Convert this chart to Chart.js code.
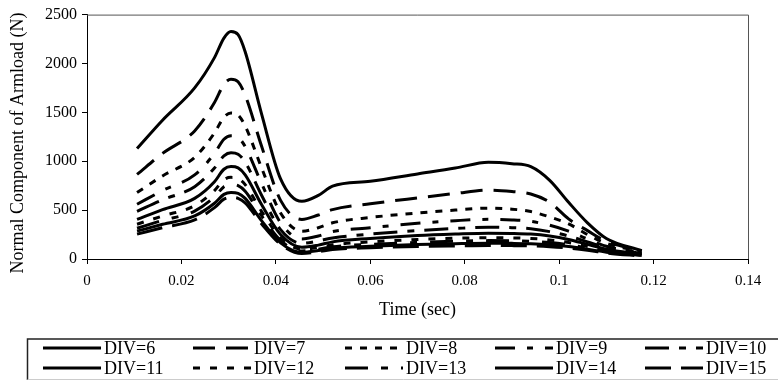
<!DOCTYPE html>
<html><head><meta charset="utf-8">
<script src="https://cdn.jsdelivr.net/npm/chart.js@4.4.1/dist/chart.umd.min.js"></script>
<style>html,body{margin:0;padding:0;background:#fff;}#wrap{width:778px;height:380px;}</style>
</head><body><div id="wrap"><canvas id="c" width="778" height="380"></canvas></div>
<script>
// ---- data ----
const timeSec = [0.0106, 0.016, 0.0228, 0.027, 0.029, 0.0305, 0.032, 0.0335, 0.037, 0.041, 0.0455, 0.049, 0.052, 0.06, 0.07, 0.078, 0.085, 0.09, 0.094, 0.098, 0.102, 0.106, 0.11, 0.1175];
const div6  = [1130, 1420, 1750, 2060, 2260, 2327, 2295, 2120, 1480, 820, 590, 650, 745, 795, 870, 930, 990, 975, 945, 805, 580, 370, 210, 85];
const div7  = [865, 1080, 1310, 1600, 1786, 1839, 1813, 1675, 1150, 600, 405, 450, 505, 565, 625, 670, 705, 690, 665, 580, 410, 290, 180, 85];
const div8  = [680, 850, 1040, 1290, 1451, 1494, 1473, 1361, 930, 470, 285, 320, 370, 425, 470, 500, 520, 510, 485, 430, 360, 250, 160, 75];
const div9  = [560, 700, 860, 1080, 1225, 1262, 1244, 1150, 770, 370, 205, 235, 280, 320, 365, 392, 406, 400, 385, 345, 285, 205, 130, 65];
const div10 = [488, 605, 740, 930, 1055, 1087, 1072, 990, 650, 300, 160, 185, 215, 255, 290, 312, 325, 320, 310, 280, 235, 175, 115, 55];
const div11 = [406, 505, 620, 790, 918, 945, 932, 861, 555, 250, 120, 142, 175, 210, 240, 255, 264, 262, 255, 235, 200, 150, 100, 50];
const div12 = [356, 440, 545, 700, 811, 835, 823, 761, 485, 215, 100, 118, 145, 175, 200, 212, 218, 216, 210, 195, 168, 128, 88, 45];
const div13 = [315, 395, 490, 635, 740, 762, 751, 694, 440, 190, 82, 100, 125, 150, 170, 182, 188, 186, 181, 168, 146, 112, 78, 40];
const div14 = [285, 355, 440, 570, 661, 681, 671, 620, 390, 165, 68, 86, 110, 130, 148, 157, 162, 160, 156, 146, 128, 100, 70, 35];
const div15 = [254, 320, 400, 525, 612, 630, 621, 574, 358, 150, 55, 74, 96, 115, 128, 134, 138, 137, 134, 126, 112, 90, 62, 30];
const seriesNames = ['DIV=6','DIV=7','DIV=8','DIV=9','DIV=10','DIV=11','DIV=12','DIV=13','DIV=14','DIV=15'];
const xTickLabels = ['0','0.02','0.04','0.06','0.08','0.1','0.12','0.14'];
const yTickLabels = ['0','500','1000','1500','2000','2500'];
const xTitle = 'Time (sec)';
const yTitle = 'Normal Component of Armload (N)';

// ---- styles ----
const allSeries = [div6, div7, div8, div9, div10, div11, div12, div13, div14, div15];
const dashes = [[], [22, 11], [7, 8], [20, 12, 6, 12], [24, 10, 7, 10], [], [7, 10], [23, 13, 7, 13], [], [26, 10]];
const widths = [3, 3, 3, 3, 3, 3, 3, 3, 3, 3];

const datasets = allSeries.map((vals, i) => ({
  label: seriesNames[i],
  data: vals.map((v, k) => ({x: timeSec[k], y: v})),
  borderColor: '#000',
  borderWidth: widths[i],
  borderDash: dashes[i],
  borderCapStyle: 'butt',
  pointRadius: 0,
  fill: false,
  cubicInterpolationMode: 'monotone'
}));

const serif = "'Liberation Serif','Times New Roman',serif";

const decor = {
  id: 'decor',
  afterDraw(chart) {
    const ctx = chart.ctx;
    const a = chart.chartArea;
    ctx.save();
    ctx.strokeStyle = '#555';
    ctx.lineWidth = 1;
    ctx.beginPath();
    ctx.moveTo(a.left, a.top + 0.5);
    ctx.lineTo(a.right + 0.5, a.top + 0.5);
    ctx.lineTo(a.right + 0.5, a.bottom);
    ctx.stroke();
    ctx.fillStyle = '#000';
    ctx.font = '18px ' + serif;
    ctx.textAlign = 'center';
    ctx.textBaseline = 'middle';
    ctx.translate(18, 143);
    ctx.rotate(-Math.PI / 2);
    ctx.fillText(yTitle, 0, 0);
    ctx.restore();

    ctx.save();
    ctx.strokeStyle = '#222';
    ctx.lineWidth = 1.5;
    ctx.beginPath();
    ctx.moveTo(27.5, 380);
    ctx.lineTo(27.5, 339);
    ctx.lineTo(790, 339);
    ctx.stroke();
    ctx.strokeStyle = '#ccc';
    ctx.lineWidth = 1;
    ctx.beginPath();
    ctx.moveTo(27.5, 379.5);
    ctx.lineTo(790, 379.5);
    ctx.stroke();
    const cols = [43, 193, 345, 495, 645];
    const rows = [348, 368];
    ctx.font = '18px ' + serif;
    ctx.textAlign = 'left';
    ctx.textBaseline = 'middle';
    ctx.fillStyle = '#000';
    chart.data.datasets.forEach((ds, i) => {
      const x = cols[i % 5], y = rows[Math.floor(i / 5)];
      ctx.strokeStyle = '#000';
      ctx.lineWidth = ds.borderWidth;
      ctx.setLineDash(ds.borderDash || []);
      ctx.lineCap = 'butt';
      ctx.beginPath();
      ctx.moveTo(x, y);
      ctx.lineTo(x + 58, y);
      ctx.stroke();
      ctx.setLineDash([]);
      ctx.fillText(ds.label, x + 61, y + 1);
    });
    ctx.restore();
  }
};

new Chart(document.getElementById('c'), {
  type: 'line',
  data: { datasets },
  plugins: [decor],
  options: {
    responsive: false,
    animation: false,
    devicePixelRatio: 1,
    layout: { padding: { top: 13, right: 30, left: 0, bottom: 0 } },
    plugins: { legend: { display: false }, tooltip: { enabled: false } },
    scales: {
      x: {
        type: 'linear', min: 0, max: 0.14,
        afterFit: s => { s.height = 121; },
        ticks: { color: '#000', padding: 8, maxRotation: 0,
          font: { family: serif, size: 15 },
          callback: (v, i) => xTickLabels[i] },
        afterBuildTicks: s => { s.ticks = xTickLabels.map(t => ({ value: parseFloat(t) })); },
        grid: { drawOnChartArea: false, drawTicks: true, tickLength: 5, color: '#000' },
        border: { display: true, color: '#000', width: 1 },
        title: { display: true, text: xTitle, color: '#000', font: { family: serif, size: 18 }, padding: { top: 0, bottom: 59 } }
      },
      y: {
        type: 'linear', min: 0, max: 2500,
        afterFit: s => { s.width = 87; },
        afterBuildTicks: s => { s.ticks = yTickLabels.map(t => ({ value: parseFloat(t) })); },
        ticks: { color: '#000', padding: 5, font: { family: serif, size: 16 },
          callback: (v, i) => yTickLabels[i] },
        grid: { drawOnChartArea: false, drawTicks: true, tickLength: 5, color: '#000' },
        border: { display: true, color: '#000', width: 1 }
      }
    }
  }
});
</script>
</body></html>
